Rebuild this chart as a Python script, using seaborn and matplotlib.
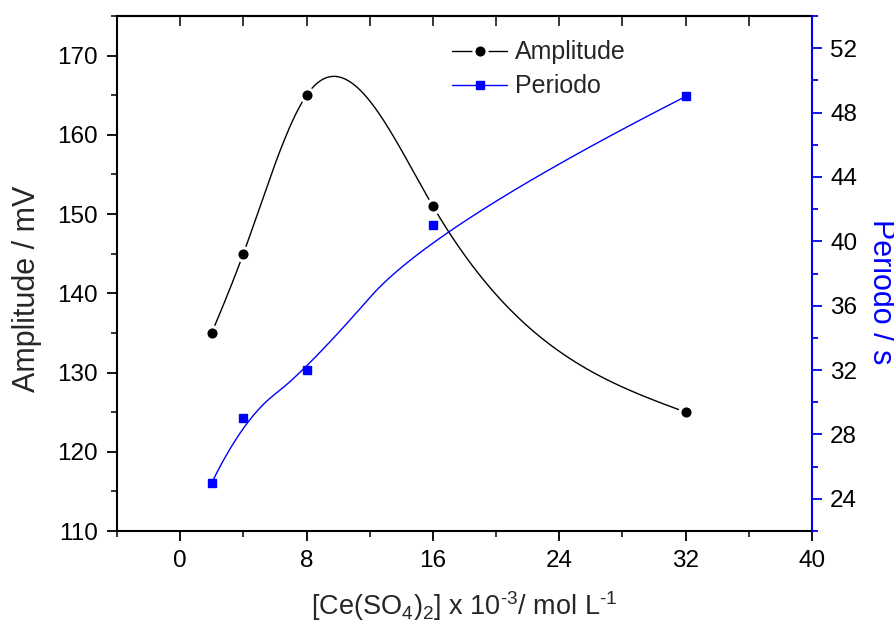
import numpy as np
import pandas as pd
import matplotlib
matplotlib.use("Agg")
import matplotlib.pyplot as plt
import seaborn as sns
from matplotlib.lines import Line2D
from matplotlib.ticker import MultipleLocator

# data
conc = [2, 4, 8, 16, 32]
amplitude = [135, 145, 165, 151, 125]
periodo = [25, 29, 32, 41, 49]


def natural_spline(x, y, n=300):
    # interpolating cubic spline (black curve goes through every point)
    x = np.asarray(x, float)
    y = np.asarray(y, float)
    k = len(x)
    h = np.diff(x)
    A = np.zeros((k, k))
    b = np.zeros(k)
    A[0, 0] = A[-1, -1] = 1
    for i in range(1, k - 1):
        A[i, i - 1] = h[i - 1]
        A[i, i] = 2 * (h[i - 1] + h[i])
        A[i, i + 1] = h[i]
        b[i] = 6 * ((y[i + 1] - y[i]) / h[i] - (y[i] - y[i - 1]) / h[i - 1])
    M = np.linalg.solve(A, b)
    xs = np.linspace(x[0], x[-1], n)
    idx = np.clip(np.searchsorted(x, xs) - 1, 0, k - 2)
    x0, x1 = x[idx], x[idx + 1]
    hh = x1 - x0
    t0, t1 = x1 - xs, xs - x0
    ys = (M[idx] * t0 ** 3 + M[idx + 1] * t1 ** 3) / (6 * hh) \
        + (y[idx] / hh - M[idx] * hh / 6) * t0 \
        + (y[idx + 1] / hh - M[idx + 1] * hh / 6) * t1
    return xs, ys


def bspline(x, y, n=400, deg=2):
    # clamped B-spline with the points as control points (blue curve)
    P = np.column_stack([x, y]).astype(float)
    k = len(P)
    inner = np.linspace(0, 1, k - deg + 1)[1:-1]
    knots = np.concatenate([np.zeros(deg + 1), inner, np.ones(deg + 1)])
    out = []
    for t in np.linspace(0, 1, n):
        if t >= 1:
            out.append(P[-1])
            continue
        j = np.searchsorted(knots, t, side='right') - 1
        d = [P[j - deg + r].copy() for r in range(deg + 1)]
        for r in range(1, deg + 1):
            for i in range(deg, r - 1, -1):
                a = (t - knots[i + j - deg]) / (knots[i + 1 + j - r] - knots[i + j - deg])
                d[i] = (1 - a) * d[i - 1] + a * d[i]
        out.append(d[deg])
    out = np.array(out)
    return out[:, 0], out[:, 1]


sns.set_style("ticks")
plt.rcParams['font.family'] = ['Liberation Sans', 'DejaVu Sans']
plt.rcParams['mathtext.default'] = 'regular'

fig = plt.figure(figsize=(8.95, 6.3), dpi=100)
ax = fig.add_axes([0.1307, 0.1571, 0.7766, 0.8175])
ax2 = ax.twinx()

blue = '#0000ff'

xa, ya = natural_spline(conc, amplitude)
xp, yp = bspline(conc, periodo)

sns.lineplot(x=xa, y=ya, ax=ax, color='black', linewidth=1.0, sort=False)
ax.plot(conc, amplitude, linestyle='none', marker='o', markersize=9.5,
        markerfacecolor='black', markeredgecolor='white', markeredgewidth=2.2, zorder=3)

sns.lineplot(x=xp, y=yp, ax=ax2, color=blue, linewidth=1.0, sort=False)
ax2.plot(conc, periodo, linestyle='none', marker='s', markersize=6,
         markerfacecolor=blue, markeredgecolor=blue, zorder=3)

ax.set_xlim(-4, 40)
ax.set_ylim(110, 175)
ax2.set_ylim(22, 54)

ax.xaxis.set_major_locator(MultipleLocator(8))
ax.xaxis.set_minor_locator(MultipleLocator(4))
ax.yaxis.set_major_locator(MultipleLocator(10))
ax.yaxis.set_minor_locator(MultipleLocator(5))
ax2.yaxis.set_major_locator(MultipleLocator(4))
ax2.yaxis.set_minor_locator(MultipleLocator(2))

for sp in ['left', 'bottom', 'top']:
    ax.spines[sp].set_linewidth(1.5)
    ax.spines[sp].set_color('black')
ax.spines['right'].set_visible(False)
for sp in ['left', 'bottom', 'top']:
    ax2.spines[sp].set_visible(False)
ax2.spines['right'].set_color(blue)
ax2.spines['right'].set_linewidth(1.5)

ax.tick_params(axis='both', which='major', direction='out', length=7, width=1.3,
               labelsize=17.5, colors='black', pad=7)
ax.tick_params(axis='both', which='minor', direction='out', length=4, width=1.3)
ax2.tick_params(axis='y', which='major', direction='out', length=7, width=1.3,
                color=blue, labelcolor='black', labelsize=17.5, pad=6)
ax2.tick_params(axis='y', which='minor', direction='out', length=4, width=1.3, color=blue)

top = ax.secondary_xaxis('top')
top.xaxis.set_major_locator(MultipleLocator(4))
top.tick_params(direction='in', length=7, width=1.3, labeltop=False)
top.spines['top'].set_linewidth(1.5)

ax.set_xlabel('[Ce(SO$_4$)$_2$] x 10$^{\u20103}$/ mol L$^{\u20101}$', fontsize=19.5, labelpad=12)
ax.set_ylabel('Amplitude / mV', fontsize=22)
ax2.set_ylabel('Periodo / s', fontsize=22, color=blue, rotation=270, va='bottom')
ax.yaxis.set_label_coords(-0.108, 0.47)
ax2.yaxis.set_label_coords(1.078, 0.465)

handles = [
    Line2D([0], [0], color='black', linewidth=1.0, marker='o', markersize=9.5,
           markerfacecolor='black', markeredgecolor='white', markeredgewidth=2.2),
    Line2D([0], [0], color=blue, linewidth=1.0, marker='s', markersize=6,
           markerfacecolor=blue, markeredgecolor=blue),
]
ax.legend(handles, ['Amplitude', 'Periodo'], loc='upper left',
          bbox_to_anchor=(0.468, 0.972), frameon=False, fontsize=18,
          handlelength=2.2, handletextpad=0.3, labelspacing=0.4, borderaxespad=0)

fig.savefig('out.png', dpi=100)
